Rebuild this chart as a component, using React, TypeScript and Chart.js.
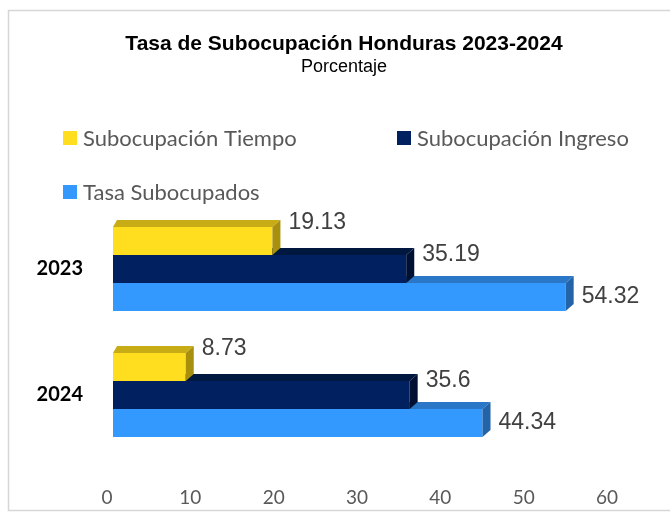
import React, { useEffect, useRef } from "react";
import { Chart, registerables } from "chart.js";

Chart.register(...registerables);

const categories = ["2023", "2024"];
const seriesNames = ["Subocupación Tiempo", "Subocupación Ingreso", "Tasa Subocupados"];
const tiempoValues = [19.13, 8.73];
const ingresoValues = [35.19, 35.6];
const tasaValues = [54.32, 44.34];
const xTicks = [0, 10, 20, 30, 40, 50, 60];
const titleText = "Tasa de Subocupación Honduras 2023-2024";
const subtitleText = "Porcentaje";

const frontColors = ["#FFDD1F", "#002060", "#3399FF"];
const topColors = ["#C8AC16", "#00183F", "#2A77C8"];
const sideColors = ["#A8900E", "#001033", "#2363A8"];
const labelOffsets = [-18, -14, 0];

const LEGEND_FONT = "22px Lato";
const DEPTH_X = 8;
const DEPTH_Y = 7;
const DEPTH_XL = 4;

const boxPlugin = {
  id: "boxBorder",
  beforeDraw(chart: any) {
    const ctx = chart.ctx;
    ctx.save();
    ctx.fillStyle = "#ffffff";
    ctx.fillRect(0, 0, chart.width, chart.height);
    ctx.strokeStyle = "#d6d6d6";
    ctx.lineWidth = 1.5;
    ctx.strokeRect(8.5, 10.5, chart.width + 20, 500);
    ctx.restore();
  },
};

const threeDPlugin = {
  id: "threeD",
  afterDatasetDraw(chart: any, args: any) {
    const ctx = chart.ctx;
    const i = args.index;
    const meta = args.meta;
    ctx.save();
    meta.data.forEach((el: any) => {
      const p = el.getProps(["x", "y", "base", "height"], true);
      const top = p.y - p.height / 2;
      const bottom = p.y + p.height / 2;
      const left = p.base;
      const right = p.x;
      ctx.fillStyle = topColors[i];
      ctx.beginPath();
      ctx.moveTo(left, top);
      ctx.lineTo(right, top);
      ctx.lineTo(right + DEPTH_X, top - DEPTH_Y);
      ctx.lineTo(left + DEPTH_XL, top - DEPTH_Y);
      ctx.closePath();
      ctx.fill();
      ctx.fillStyle = sideColors[i];
      ctx.beginPath();
      ctx.moveTo(right, top);
      ctx.lineTo(right + DEPTH_X, top - DEPTH_Y);
      ctx.lineTo(right + DEPTH_X, bottom - DEPTH_Y);
      ctx.lineTo(right, bottom);
      ctx.closePath();
      ctx.fill();
    });
    ctx.restore();
  },
};

const labelsPlugin = {
  id: "valueLabels",
  afterDraw(chart: any) {
    const ctx = chart.ctx;
    ctx.save();
    ctx.font = "23px 'Liberation Sans', Arial, sans-serif";
    ctx.fillStyle = "#404040";
    ctx.textAlign = "left";
    ctx.textBaseline = "middle";
    chart.data.datasets.forEach((ds: any, i: number) => {
      const meta = chart.getDatasetMeta(i);
      meta.data.forEach((el: any, j: number) => {
        const p = el.getProps(["x", "y"], true);
        ctx.fillText(String(ds.data[j]), p.x + 16, p.y + labelOffsets[i]);
      });
    });
    ctx.restore();
  },
};

const legendPlugin = {
  id: "gridLegend",
  afterDraw(chart: any) {
    const ctx = chart.ctx;
    const slots = [
      { x: 63, y: 138 },
      { x: 397, y: 138 },
      { x: 63, y: 192 },
    ];
    ctx.save();
    ctx.font = LEGEND_FONT;
    ctx.textAlign = "left";
    ctx.textBaseline = "middle";
    chart.data.datasets.forEach((ds: any, i: number) => {
      const s = slots[i];
      ctx.fillStyle = ds.backgroundColor;
      ctx.fillRect(s.x, s.y - 7, 14, 14);
      ctx.fillStyle = "#595959";
      ctx.fillText(ds.label, s.x + 20, s.y + 1);
    });
    ctx.restore();
  },
};

export default function App() {
  const ref = useRef<HTMLCanvasElement | null>(null);
  useEffect(() => {
    if (!ref.current) return;
    const seriesValues = [tiempoValues, ingresoValues, tasaValues];
    const chart = new Chart(ref.current, {
      type: "bar",
      data: {
        labels: categories,
        datasets: seriesNames.map((name, i) => ({
          label: name,
          data: seriesValues[i],
          backgroundColor: frontColors[i],
          borderWidth: 0,
          categoryPercentage: 0.667,
          barPercentage: 1,
        })),
      },
      options: {
        indexAxis: "y",
        animation: false,
        responsive: false,
        devicePixelRatio: 1,
        layout: { autoPadding: false, padding: { top: 10, left: 9, right: -9, bottom: 20 } },
        plugins: {
          legend: { display: false },
          tooltip: { enabled: false },
          title: {
            display: true,
            text: titleText,
            color: "#000000",
            font: { family: "'Liberation Sans', Arial, sans-serif", size: 21, weight: "bold", lineHeight: 1 },
            padding: { top: 24, bottom: 0 },
          },
          subtitle: {
            display: true,
            text: subtitleText,
            color: "#000000",
            font: { family: "'Liberation Sans', Arial, sans-serif", size: 18, lineHeight: 1 },
            padding: { top: 3, bottom: 130 },
          },
        },
        scales: {
          x: {
            min: xTicks[0],
            max: xTicks[xTicks.length - 1],
            grid: { display: false, drawTicks: false },
            border: { display: false },
            afterBuildTicks: (scale: any) => {
              scale.ticks = xTicks.map((v) => ({ value: v }));
            },
            afterFit: (scale: any) => {
              scale.height = 51;
            },
            ticks: {
              color: "#595959",
              font: { family: "Lato", size: 19 },
              padding: 28,
              labelOffset: -6,
              maxRotation: 0,
            },
          },
          y: {
            grid: { display: false, drawTicks: false },
            border: { display: false },
            afterFit: (scale: any) => {
              scale.width = 104;
            },
            ticks: {
              color: "#000000",
              font: { family: "Lato", size: 20, weight: "bold" },
              padding: 30,
            },
          },
          yRight: {
            type: "linear",
            position: "right",
            display: true,
            grid: { display: false, drawTicks: false },
            border: { display: false },
            ticks: { display: false },
            afterFit: (scale: any) => {
              scale.width = 66;
            },
          },
        },
      },
      plugins: [boxPlugin, threeDPlugin, labelsPlugin, legendPlugin],
    } as any);
    return () => chart.destroy();
  }, []);
  return (
    <canvas
      ref={ref}
      width={670}
      height={529}
      style={{ position: "fixed", left: 0, top: 0, width: 670, height: 529 }}
    />
  );
}
